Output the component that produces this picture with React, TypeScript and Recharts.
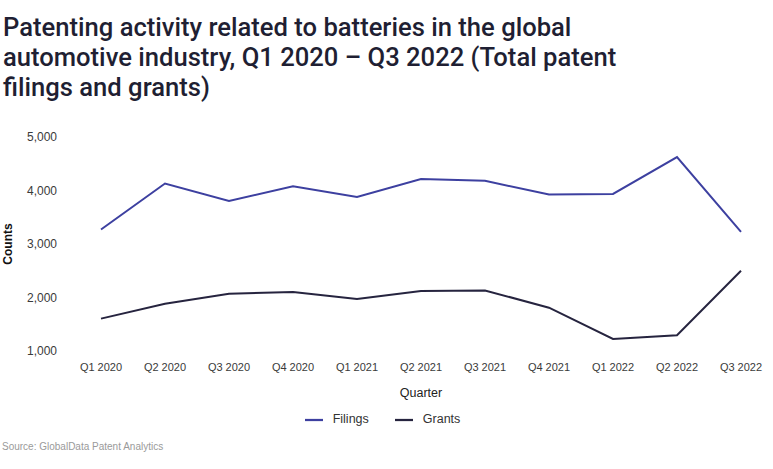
import React from 'react';
import { LineChart, Line, XAxis, YAxis, Legend } from 'recharts';

const quarters = [
  'Q1 2020', 'Q2 2020', 'Q3 2020', 'Q4 2020',
  'Q1 2021', 'Q2 2021', 'Q3 2021', 'Q4 2021',
  'Q1 2022', 'Q2 2022', 'Q3 2022',
];
const filings = [3270, 4130, 3805, 4080, 3880, 4215, 4180, 3925, 3935, 4625, 3228];
const grants = [1605, 1885, 2070, 2103, 1972, 2121, 2132, 1810, 1226, 1295, 2500];
const yTicks = [1000, 2000, 3000, 4000, 5000];

const data = quarters.map((q, i) => ({ quarter: q, Filings: filings[i], Grants: grants[i] }));

const FONT = "'Liberation Sans', Arial, sans-serif";

const CountsLabel = (props: any) => {
  const { viewBox } = props;
  const cx = 8;
  const cy = viewBox.y + viewBox.height / 2;
  return (
    <text
      x={cx}
      y={cy}
      transform={`rotate(-90 ${cx} ${cy})`}
      textAnchor="middle"
      dominantBaseline="central"
      fontSize={12}
      fontWeight={700}
      fill="#111"
      fontFamily={FONT}
    >
      Counts
    </text>
  );
};

export default function App() {
  return (
    <div
      style={{
        position: 'absolute',
        left: 0,
        top: 0,
        width: 773,
        height: 469,
        background: '#fff',
        overflow: 'hidden',
      }}
    >
      <LineChart
        width={773}
        height={469}
        data={data}
        margin={{ top: 137, right: 32, left: 0, bottom: 68 }}
      >
        <XAxis
          dataKey="quarter"
          axisLine={false}
          tickLine={false}
          interval={0}
          tickMargin={6}
          height={50}
          tick={{ fontSize: 11, fill: '#3a3a3a', fontFamily: FONT }}
          label={{
            value: 'Quarter',
            position: 'insideBottom',
            offset: 4,
            fontSize: 12.5,
            fill: '#222',
            fontFamily: FONT,
          }}
        />
        <YAxis
          type="number"
          domain={[1000, 5000]}
          ticks={yTicks}
          axisLine={false}
          tickLine={false}
          width={101}
          tickMargin={38}
          tickFormatter={(v: number) => v.toLocaleString('en-US')}
          tick={{ fontSize: 12, fill: '#3a3a3a', fontFamily: FONT }}
          label={<CountsLabel />}
        />
        <Legend
          verticalAlign="middle"
          align="center"
          iconType="plainline"
          iconSize={18}
          wrapperStyle={{ top: 411, left: 9, width: 773, fontFamily: FONT, fontSize: 12.5 }}
          formatter={(v: string) => (
            <span style={{ color: '#333', marginLeft: 6, marginRight: 16 }}>{v}</span>
          )}
        />
        <Line
          type="linear"
          dataKey="Filings"
          stroke="#3d40a0"
          strokeWidth={2}
          dot={false}
          isAnimationActive={false}
        />
        <Line
          type="linear"
          dataKey="Grants"
          stroke="#26243f"
          strokeWidth={2}
          dot={false}
          isAnimationActive={false}
        />
      </LineChart>
      <div
        style={{
          position: 'absolute',
          left: 3,
          top: 12,
          width: 720,
          fontFamily: "Roboto, 'Liberation Sans', sans-serif",
          fontWeight: 500,
          fontSize: 25.6,
          lineHeight: '30px',
          color: '#1f1f33',
        }}
      >
        Patenting activity related to batteries in the global
        <br />
        automotive industry, Q1 2020 – Q3 2022 (Total patent
        <br />
        filings and grants)
      </div>
      <div
        style={{
          position: 'absolute',
          left: 2,
          top: 441,
          fontFamily: FONT,
          fontSize: 10,
          color: '#9a9a9a',
        }}
      >
        Source: GlobalData Patent Analytics
      </div>
    </div>
  );
}
